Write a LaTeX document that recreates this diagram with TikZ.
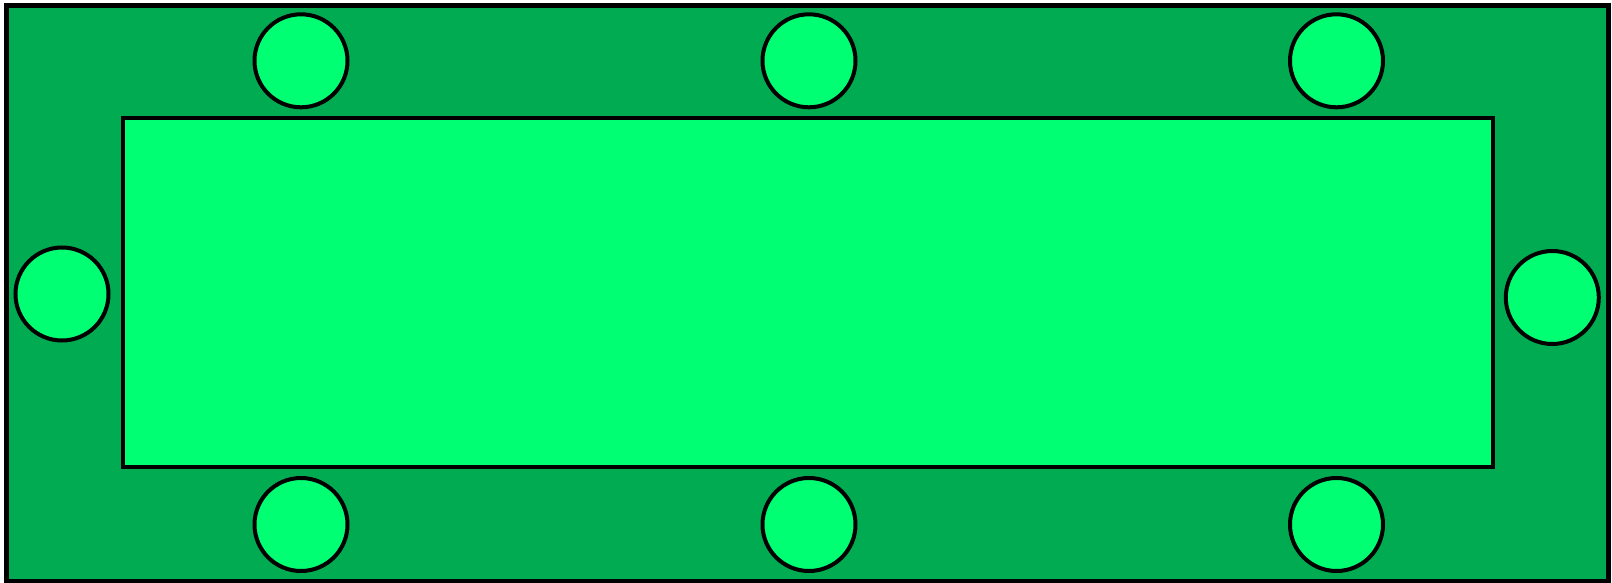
\documentclass[tikz,border=0pt]{standalone}
\usepackage{xcolor}
\usepackage{tikz}
\usetikzlibrary{positioning}

\definecolor{floorgreen}{RGB}{0,171,82}
\definecolor{brightgreen}{RGB}{0,255,115}

\begin{document}
\begin{tikzpicture}[
    x=1pt, y=-1pt,
    room/.style={fill=floorgreen, draw=black, line width=4.5pt},
    desk/.style={fill=brightgreen, draw=black, line width=4pt},
    seat/.style={circle, fill=brightgreen, draw=black, line width=4pt,
                 minimum size=93pt, inner sep=0pt}
]

\useasboundingbox (0,0) rectangle (1612,583);

% --- 1. Room ---
\draw[room] (6.5,5.5) rectangle (1608.5,581);

% --- 2. Table ---
\node[desk, minimum width=1370pt, minimum height=349pt, inner sep=0pt]
    (table) at (808.25,292.6) {};

% --- 3. Chairs ---
\foreach \name/\x/\y in {
    t1/301/60.8,  t2/809/60.8,  t3/1336.5/60.8,
    b1/301/524.5, b2/809/524.5, b3/1336.5/524.5,
    l/62/294,     r/1552.3/297.5
}{
    \node[seat] (chair\name) at (\x,\y) {};
}

\end{tikzpicture}
\end{document}
